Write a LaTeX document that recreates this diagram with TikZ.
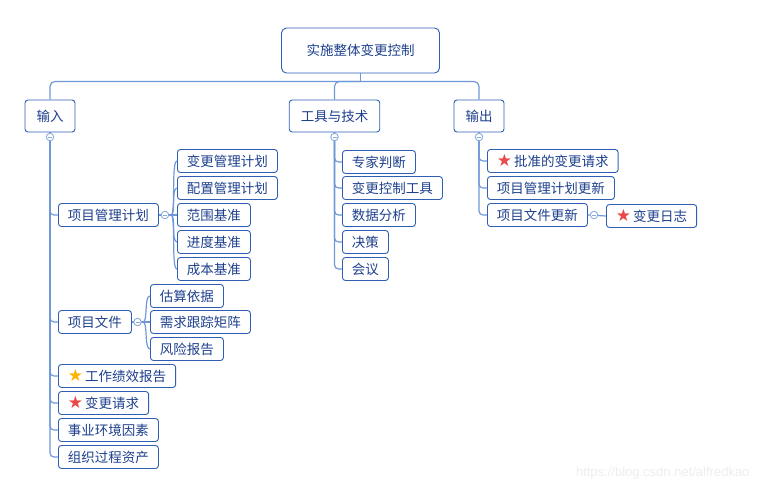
\documentclass[tikz,border=0pt]{standalone}
\usepackage{fontspec}
\newfontfamily\cjk{Noto Sans CJK SC}
\newfontfamily\starfont{DejaVu Sans}
\newfontfamily\markfont{Liberation Sans}
\definecolor{boxblue}{HTML}{2F5FB5}
\definecolor{txtblue}{HTML}{1D3F8C}
\definecolor{lineblue}{HTML}{6F98D8}
\definecolor{foldblue}{HTML}{8AAADB}
\definecolor{staryellow}{HTML}{FFB300}
\definecolor{starred}{HTML}{E84A4A}
\newcommand{\ystar}{{\color{staryellow}\starfont\fontsize{17}{15}\selectfont ★}\hspace{2pt}}
\newcommand{\rstar}{{\color{starred}\starfont\fontsize{17}{15}\selectfont ★}\hspace{2pt}}
\tikzset{
    box/.style={draw=boxblue, line width=0.9pt, rounded corners=3pt, text=txtblue,
        font=\cjk\fontsize{13.5}{16}\selectfont, inner xsep=9.5pt, inner ysep=0pt,
        minimum height=23pt, anchor=west},
    topbox/.style={box, anchor=center, minimum height=32pt, inner xsep=11.5pt},
    rootbox/.style={box, anchor=center, minimum height=45pt, inner xsep=25pt, rounded corners=5pt},
    link/.style={draw=lineblue, line width=1.2pt, rounded corners=5pt},
    fold/.style={circle, draw=foldblue, fill=white, line width=0.9pt, inner sep=0pt, minimum size=7.5pt,
        path picture={\draw[foldblue, line width=0.9pt] ([xshift=-2pt]path picture bounding box.center)
            -- ([xshift=2pt]path picture bounding box.center);}}
}
\begin{document}
\begin{tikzpicture}[x=1pt, y=-1pt]
    \useasboundingbox (0,0) rectangle (763,491);
    \node[rootbox] (root) at (360.5,50.5) {实施整体变更控制};
    \node[topbox] (in) at (50,116) {输入};
    \node[topbox] (tt) at (334.5,116) {工具与技术};
    \node[topbox] (out) at (479,116) {输出};

    \node[box] (pmp) at (58,215) {项目管理计划};
        \node[box] (chgplan) at (177,161) {变更管理计划};
        \node[box] (cfgplan) at (177,188) {配置管理计划};
        \node[box] (scope) at (177,215) {范围基准};
        \node[box] (sched) at (177,242) {进度基准};
        \node[box] (cost) at (177,269) {成本基准};
    \node[box] (docs) at (58,322) {项目文件};
        \node[box] (est) at (150,296) {估算依据};
        \node[box] (rtm) at (150,322) {需求跟踪矩阵};
        \node[box] (risk) at (150,349) {风险报告};
    \node[box] (wpr) at (58,376) {\ystar 工作绩效报告};
    \node[box] (cr) at (58,403) {\rstar 变更请求};
    \node[box] (eef) at (58,430) {事业环境因素};
    \node[box] (opa) at (58,457) {组织过程资产};

    \node[box] (expert) at (342,162) {专家判断};
    \node[box] (cctool) at (342,188) {变更控制工具};
    \node[box] (data) at (342,215) {数据分析};
    \node[box] (decide) at (342,242) {决策};
    \node[box] (meet) at (342,269) {会议};

    \node[box] (acr) at (487,161) {\rstar 批准的变更请求};
    \node[box] (pmpup) at (487,188) {项目管理计划更新};
    \node[box] (docup) at (487,215) {项目文件更新};
    \node[box] (log) at (606,216) {\rstar 变更日志};

    \draw[link] (root.south) -- ++(0,8) coordinate (hub);
    \draw[link] (in.north) |- (hub) -| (out.north);
    \draw[link] (hub) -| (tt.north);

    \foreach \kid in {pmp,docs,wpr,cr,eef,opa}
        \draw[link, rounded corners=4pt] (in.south) |- (\kid.west);
    \foreach \kid in {expert,cctool,data,decide,meet}
        \draw[link, rounded corners=4pt] (tt.south) |- (\kid.west);
    \foreach \kid in {acr,pmpup,docup}
        \draw[link, rounded corners=4pt] (out.south) |- (\kid.west);

    \coordinate (pmp-h) at (171,215);
    \draw[link] (pmp.east) -- (pmp-h);
    \foreach \kid in {chgplan,cfgplan,scope,sched,cost}
        \draw[link] (pmp-h) .. controls +(5,0) and +(-6,0) .. (\kid.west);
    \coordinate (docs-h) at (143,322);
    \draw[link] (docs.east) -- (docs-h);
    \foreach \kid in {est,rtm,risk}
        \draw[link] (docs-h) .. controls +(5,0) and +(-6,0) .. (\kid.west);
    \draw[link] (docup.east) -- (log.west);

    \node[fold] (in-c) at (50,137) {};
    \node[fold] (tt-c) at (334.5,137) {};
    \node[fold] (out-c) at (479,137) {};
    \node[fold] (pmp-c) at (165,215) {};
    \node[fold] (docs-c) at (137.5,322) {};
    \node[fold] (docup-c) at (594,215) {};

    \node[font=\markfont\fontsize{13}{15}\selectfont, text=black!7, anchor=east] (mark) at (753,473) {https://blog.csdn.net/alfredkao};
\end{tikzpicture}
\end{document}
